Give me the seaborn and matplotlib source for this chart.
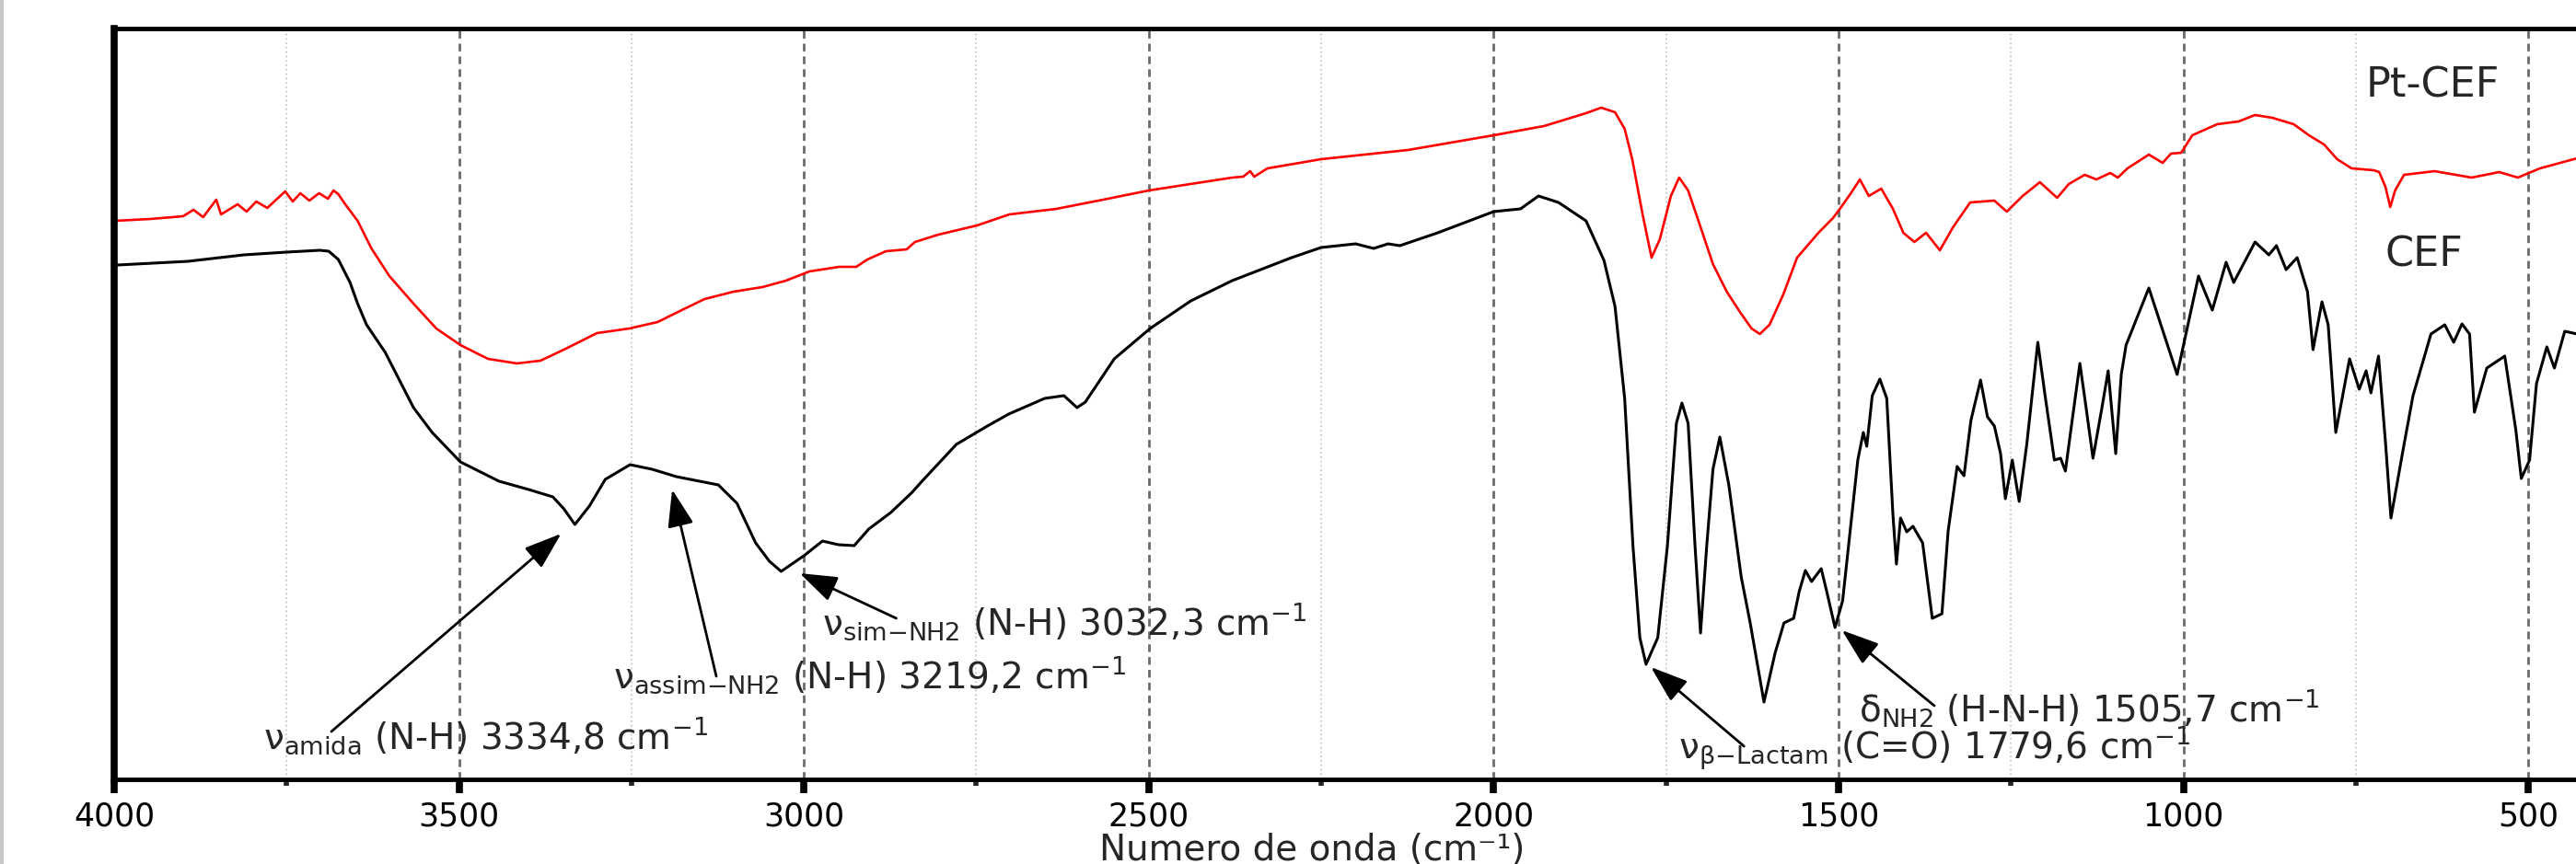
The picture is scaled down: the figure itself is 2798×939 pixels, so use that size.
import numpy as np
import pandas as pd
import seaborn as sns
from matplotlib import pyplot as plt
from matplotlib.ticker import MultipleLocator, NullFormatter, NullLocator

# FTIR spectra, transmittance in arbitrary units (0 = bottom of frame)
pt_cef_wn = [3999, 3948, 3900, 3885, 3871, 3852, 3845, 3821, 3808, 3794, 3778, 3752, 3741, 3730,
             3717, 3703, 3690, 3682, 3675, 3665, 3647, 3627, 3601, 3566, 3533, 3498, 3458, 3416,
             3382, 3348, 3300, 3253, 3212, 3177, 3144, 3102, 3060, 3026, 2992, 2949, 2924, 2908,
             2881, 2851, 2839, 2805, 2749, 2702, 2634, 2566, 2500, 2379, 2363, 2353, 2347, 2328,
             2250, 2124, 2000, 1927, 1866, 1844, 1824, 1810, 1799, 1784, 1771, 1759, 1743, 1731,
             1718, 1703, 1682, 1662, 1642, 1626, 1614, 1600, 1580, 1560, 1529, 1508, 1498, 1482,
             1469, 1456, 1438, 1421, 1406, 1390, 1373, 1353, 1334, 1309, 1274, 1256, 1233, 1208,
             1183, 1166, 1143, 1126, 1106, 1095, 1081, 1050, 1030, 1018, 1003, 987, 951, 920, 896,
             871, 840, 818, 796, 777, 756, 724, 716, 707, 700, 693, 680, 636, 582, 542, 515, 483, 429]
pt_cef_t = [607, 609, 612, 619, 611, 630, 614, 625, 617, 628, 621, 639, 628, 637,
            629, 637, 631, 640, 636, 625, 607, 577, 547, 517, 490, 472, 457, 452,
            455, 467, 485, 490, 497, 510, 522, 530, 535, 542, 552, 557, 557, 565,
            574, 576, 584, 592, 602, 614, 620, 630, 640, 654, 655, 661, 655, 664,
            674, 684, 700, 710, 724, 730, 725, 707, 674, 614, 567, 587, 634, 654,
            640, 607, 560, 530, 507, 490, 484, 494, 527, 567, 594, 610, 620, 637,
            652, 634, 642, 620, 594, 584, 594, 575, 600, 627, 629, 617, 634, 649,
            632, 647, 657, 652, 659, 654, 664, 679, 670, 680, 681, 700, 712, 715, 722,
            719, 712, 700, 690, 674, 664, 662, 660, 644, 622, 640, 657, 661, 654, 660, 654, 664, 675]

cef_wn = [3995, 3893, 3812, 3750, 3702, 3689, 3675, 3658, 3647, 3634, 3607, 3566, 3539, 3498,
          3442, 3399, 3364, 3348, 3332, 3311, 3288, 3252, 3220, 3185, 3124, 3097, 3070, 3050,
          3033, 3000, 2973, 2950, 2927, 2906, 2874, 2843, 2830, 2779, 2734, 2703, 2651, 2623,
          2604, 2592, 2550, 2498, 2439, 2379, 2293, 2250, 2200, 2174, 2153, 2136, 2081, 2000,
          1961, 1935, 1906, 1886, 1866, 1840, 1824, 1810, 1798, 1788, 1779, 1762, 1748, 1735,
          1727, 1718, 1708, 1700, 1691, 1682, 1672, 1659, 1641, 1628, 1608, 1592, 1579, 1565,
          1557, 1548, 1539, 1525, 1517, 1505, 1494, 1472, 1464, 1459, 1451, 1440, 1430, 1421,
          1416, 1410, 1401, 1392, 1378, 1364, 1350, 1341, 1328, 1318, 1308, 1294, 1284, 1274,
          1265, 1258, 1248, 1238, 1227, 1211, 1201, 1187, 1178, 1171, 1163, 1150, 1141, 1131,
          1118, 1109, 1098, 1090, 1083, 1050, 1009, 978, 958, 938, 927, 896, 876, 865, 851,
          835, 820, 812, 799, 790, 779, 759, 745, 735, 728, 717, 707, 699, 680, 667, 641, 621,
          608, 596, 585, 578, 560, 534, 518, 510, 498, 488, 473, 462, 447, 429]
cef_t = [559, 563, 570, 573, 575, 574, 565, 540, 517, 494, 464, 404, 377, 345,
         324, 315, 307, 294, 277, 297, 326, 342, 337, 329, 320, 300, 257, 237,
         226, 243, 259, 255, 254, 272, 290, 312, 323, 364, 384, 397, 414, 417,
         404, 410, 457, 490, 520, 542, 567, 578, 582, 577, 582, 580, 594, 617,
         620, 634, 627, 617, 607, 564, 514, 414, 254, 154, 125, 154, 254, 387,
         409, 387, 254, 159, 254, 337, 372, 320, 220, 170, 84, 137, 170, 175,
         204, 227, 215, 229, 204, 165, 194, 347, 377, 362, 417, 435, 414, 287,
         234, 284, 269, 275, 257, 175, 180, 270, 340, 330, 390, 434, 394, 384,
         354, 305, 347, 302, 364, 475, 420, 347, 349, 335, 380, 452, 404, 349,
         404, 444, 354, 440, 472, 534, 440, 547, 510, 562, 540, 584, 570, 580, 554,
         567, 530, 467, 519, 494, 377, 457, 424, 444, 420, 460, 367, 284, 364, 417, 484, 494,
         475, 495, 484, 399, 447, 460, 380, 327, 347, 430, 470, 447, 487, 484]

major_ticks = [4000, 3500, 3000, 2500, 2000, 1500, 1000, 500]

# peak labels: text, left/baseline anchor (wn, y), arrow tail, arrow head
peak_labels = [
    r"ν$_{\mathrm{amida}}$ (N-H) 3334,8 cm$^{-1}$",
    r"ν$_{\mathrm{assim{-}NH2}}$ (N-H) 3219,2 cm$^{-1}$",
    r"ν$_{\mathrm{sim{-}NH2}}$ (N-H) 3032,3 cm$^{-1}$",
    r"δ$_{\mathrm{NH2}}$ (H-N-H) 1505,7 cm$^{-1}$",
    r"ν$_{\mathrm{β{-}Lactam}}$ (C=O) 1779,6 cm$^{-1}$",
]
label_pos = [(3784, 33), (3276, 99), (2973, 157), (1471, 62), (1732, 22)]
arrow_tail = [(3685, 52), (3127, 112), (2866, 175), (1361, 80), (1637, 36)]
arrow_head = [(3352, 267), (3191, 315), (3006, 224), (1495, 162), (1772, 122)]

sns.set_style("white")
plt.rcParams["font.family"] = ["DejaVu Sans"]
plt.rcParams["mathtext.fontset"] = "dejavusans"

fig = plt.figure(figsize=(27.98, 9.39), dpi=100)
ax = fig.add_axes([124 / 2798, 92 / 939, 2697 / 2798, 816 / 939])

pt_df = pd.DataFrame({"wn": pt_cef_wn, "T": pt_cef_t})
cef_df = pd.DataFrame({"wn": cef_wn, "T": cef_t})
sns.lineplot(data=pt_df, x="wn", y="T", ax=ax, color="#ff0000", lw=1.9,
             estimator=None, sort=False)
sns.lineplot(data=cef_df, x="wn", y="T", ax=ax, color="black", lw=2.2,
             estimator=None, sort=False)

ax.set_xlim(4000, 400)
ax.set_ylim(0, 816)

ax.xaxis.set_major_locator(MultipleLocator(500))
ax.xaxis.set_minor_locator(MultipleLocator(250))
ax.xaxis.set_minor_formatter(NullFormatter())
ax.set_xticks(major_ticks)
ax.set_xticklabels([str(t) for t in major_ticks])
ax.yaxis.set_major_locator(NullLocator())
ax.set_ylabel("")

ax.grid(which="major", axis="x", ls=(0, (3, 2)), color="#6a6a6a", lw=2.0)
ax.grid(which="minor", axis="x", ls=":", color="#c8c8c8", lw=1.3)
ax.set_axisbelow(True)

ax.spines["left"].set_linewidth(5.5)
ax.spines["top"].set_linewidth(3.5)
ax.spines["bottom"].set_linewidth(3.5)
ax.spines["right"].set_visible(False)
for s in ax.spines.values():
    s.set_color("black")

ax.tick_params(axis="x", which="major", direction="out", length=11, width=5.5,
               pad=6, labelsize=25, colors="black", bottom=True, top=False)
ax.tick_params(axis="x", which="minor", direction="out", length=5, width=4,
               bottom=True, top=False)

ax.set_xlabel("Numero de onda (cm⁻¹)", fontsize=28)
ax.xaxis.label.set_va("baseline")
ax.xaxis.set_label_coords(0.4824, -0.1078)

ax.text(638, 742, "Pt-CEF", fontsize=32, ha="center", va="baseline")
ax.text(651, 557, "CEF", fontsize=32, ha="center", va="baseline")

for text, pos, tail, head in zip(peak_labels, label_pos, arrow_tail, arrow_head):
    ax.text(pos[0], pos[1], text, fontsize=28, ha="left", va="baseline")
    ax.annotate("", xy=head, xytext=tail,
                arrowprops=dict(arrowstyle="-|>,head_length=1.0,head_width=0.35",
                                mutation_scale=25, lw=2, color="black",
                                shrinkA=0, shrinkB=0))

# thin grey border left by the original screenshot
fig.add_artist(plt.Line2D([0.0006, 0.0006], [0, 1], transform=fig.transFigure,
                          color="#c8c8c8", lw=3))

fig.savefig("out.png", dpi=100)
